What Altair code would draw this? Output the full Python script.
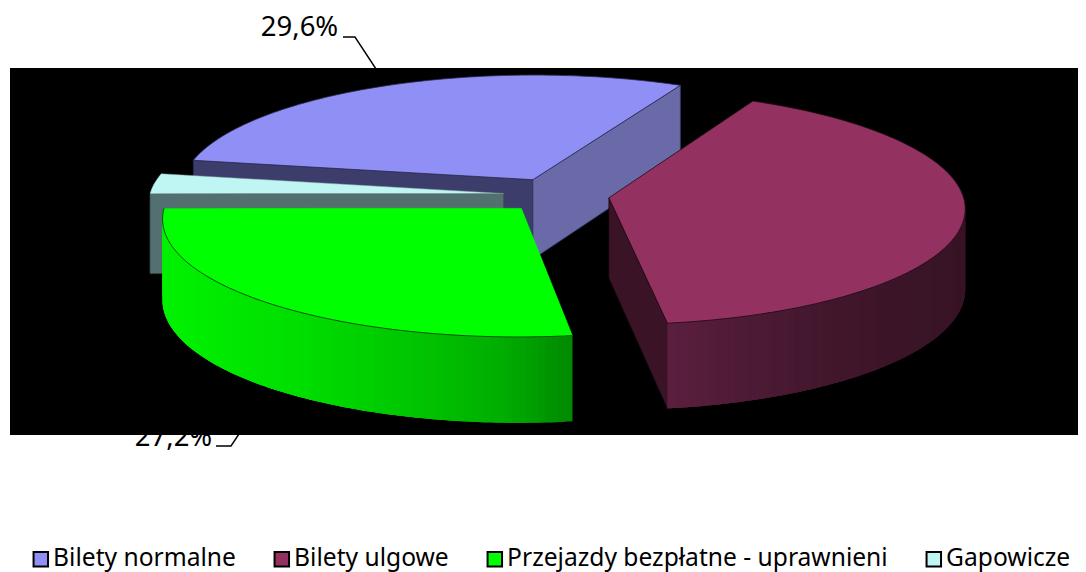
import numpy as np
import pandas as pd
import altair as alt

# --- chart values
categories = ["Bilety normalne", "Bilety ulgowe", "Przejazdy bezpłatne - uprawnieni", "Gapowicze"]
shares = [29.6, 40.4, 27.2, 2.8]
start_angle = 280.0
top_colors = ["#8F8FF5", "#933160", "#00FF00", "#BFF5F2"]
shown_labels = ["29,6%", "27,2%"]

# --- 3-D look of the pie
R, EXPLODE, DEPTH = 354.0, 53.0, 80.0
CX, CY, TILT, PERSP, DEPTH_PERSP = 556.5, 195.0, 0.327, 0.083, 0.06


def project(X, Y, Z=0.0):
    s = 1.0 / (1.0 + PERSP * Y / R)
    sz = 1.0 / (1.0 + DEPTH_PERSP * Y / R)
    return CX + X * s, CY - Y * TILT * s + Z * sz


def polar(a, r):
    t = np.radians(a)
    return r * np.sin(t), r * np.cos(t)


polys = []
pid = [0]


def add(points, fill, stroke, width=0.8):
    for i, (x, y) in enumerate(points):
        polys.append(dict(x=x, y=y, i=i, poly=pid[0], fill=fill, stroke=stroke, sw=width))
    pid[0] += 1


bounds = np.cumsum([0] + shares) * 3.6 + start_angle
slices = {}
for name, a0, a1 in zip(categories, bounds[:-1], bounds[1:]):
    ox, oy = polar((a0 + a1) / 2, EXPLODE)
    slices[name] = (ox, oy, a0, a1)


def pt(ox, oy, a, r, z=0.0):
    px, py = polar(a, r)
    return project(ox + px, oy + py, z)


def top_poly(name):
    ox, oy, a0, a1 = slices[name]
    arc = [pt(ox, oy, a, R) for a in np.linspace(a0, a1, 90)]
    apex = pt(ox, oy, 0, 0)
    return [apex] + arc + [apex]


def face(name, a, fill, stroke):
    ox, oy, *_ = slices[name]
    add([pt(ox, oy, 0, 0), pt(ox, oy, a, R), pt(ox, oy, a, R, DEPTH),
         pt(ox, oy, 0, 0, DEPTH), pt(ox, oy, 0, 0)], fill, stroke)


def lerp_color(x, xs, cs):
    rgb = [np.interp(x, xs, [int(c[j:j + 2], 16) for c in cs]) for j in (1, 3, 5)]
    return "#%02x%02x%02x" % tuple(int(round(v)) for v in rgb)


def rim(name, a0, a1, xs, cs):
    # strips overlap their neighbour so that no seam shows between them
    ox, oy, *_ = slices[name]
    step = 1.0
    angles = np.arange(a0, a1 - step * 0.5, step)
    for p in angles:
        q = min(p + 3 * step, a1)
        mid = pt(ox, oy, p + step / 2, R)
        col = lerp_color(mid[0], xs, cs)
        arc = [pt(ox, oy, v, R) for v in np.linspace(p, q, 4)]
        low = [pt(ox, oy, v, R, DEPTH) for v in np.linspace(q, p, 4)]
        add(arc + low + [arc[0]], col, "transparent", 0)


n_blue, n_red, n_green, n_gap = categories
a = {k: slices[k][2:] for k in categories}

# painter's order: blue, gap, green, red
face(n_blue, a[n_blue][0], "#3D3D6B", "#2A2A50")
face(n_blue, a[n_blue][1], "#6A6AA8", "#3A3A70")
add(top_poly(n_blue), top_colors[0], "#2A2A50")

rim(n_gap, a[n_gap][0], a[n_gap][0] + 6, [100, 200], ["#5F7C7C", "#5F7C7C"])
face(n_gap, a[n_gap][0], "#537070", "#3A4A4A")
add(top_poly(n_gap), top_colors[3], "#7A9A9A", 0.5)

rim(n_green, a[n_green][0], a[n_green][1],
    [165, 300, 420, 500, 571], ["#00F200", "#00DE00", "#00C400", "#00AE00", "#008A00"])
add(top_poly(n_green), top_colors[2], "#00FF00", 0.3)
ox, oy, *_ = slices[n_green]
add([pt(ox, oy, x, R) for x in np.linspace(a[n_green][0], a[n_green][1], 70)], "transparent", "#064006", 0.9)

face(n_red, a[n_red][1], "#3A1426", "#1A0A12")
rim(n_red, a[n_red][0] + 40, a[n_red][1],
    [667, 740, 820, 900, 965], ["#5C1F3E", "#4E1B36", "#43172D", "#3B1427", "#381326"])
add(top_poly(n_red), top_colors[1], "#1E0A14")

df = pd.DataFrame(polys)

X = alt.X("x:Q", axis=None, scale=alt.Scale(domain=[8, 1078], nice=False, zero=False))
Y = alt.Y("y:Q", axis=None, scale=alt.Scale(domain=[572, 8], nice=False, zero=False))

base = dict(x=X, y=Y)

label_df = pd.DataFrame({"x": [299.5, 173.5], "y": [28, 438], "t": shown_labels})
labels = alt.Chart(label_df).mark_text(font="Noto Sans", fontSize=27.5, color="#000000").encode(text="t:N", **base)

leaders = alt.Chart(pd.DataFrame({
    "x": [343, 355, 378, 216, 231, 241], "y": [37, 37, 72, 446, 446, 431], "g": [0, 0, 0, 1, 1, 1], "i": [0, 1, 2, 0, 1, 2],
})).mark_line(color="#000000", strokeWidth=1.4).encode(detail="g:N", order="i:Q", **base)

panel = alt.Chart(pd.DataFrame({"x": [10], "x2": [1078], "y": [68], "y2": [435]})).mark_rect(color="#000000").encode(
    x2="x2:Q", y2="y2:Q", **base)

pie = alt.Chart(df).mark_line(strokeJoin="round").encode(
    detail="poly:N",
    order="i:Q",
    fill=alt.Fill("fill:N", scale=None),
    stroke=alt.Stroke("stroke:N", scale=None),
    strokeWidth=alt.StrokeWidth("sw:Q", scale=None),
    **base,
)

legend_src = alt.Chart(pd.DataFrame({"x": [100] * 4, "y": [100] * 4, "cat": categories})).mark_square(size=0, opacity=1).encode(
    color=alt.Color("cat:N", sort=categories, scale=alt.Scale(domain=categories, range=top_colors),
                    legend=alt.Legend(title=None, orient="none", legendX=20.5, legendY=539, direction="horizontal",
                                      columns=4, symbolType="square", symbolSize=210, symbolStrokeColor="#000000",
                                      symbolStrokeWidth=2, symbolOpacity=1, labelFont="Noto Sans", labelFontSize=24.6,
                                      labelColor="#000000", labelLimit=500, labelOffset=0, columnPadding=33,
                                      symbolFillColor="#ffffff")),
    **base,
)

chart = alt.layer(labels, leaders, panel, pie, legend_src).properties(
    width=1070, height=564, padding=0, autosize=alt.AutoSizeParams(type="none"), background="#ffffff",
).configure_view(stroke=None)

chart.save("out.html", embed_options={"renderer": "svg", "actions": False})
